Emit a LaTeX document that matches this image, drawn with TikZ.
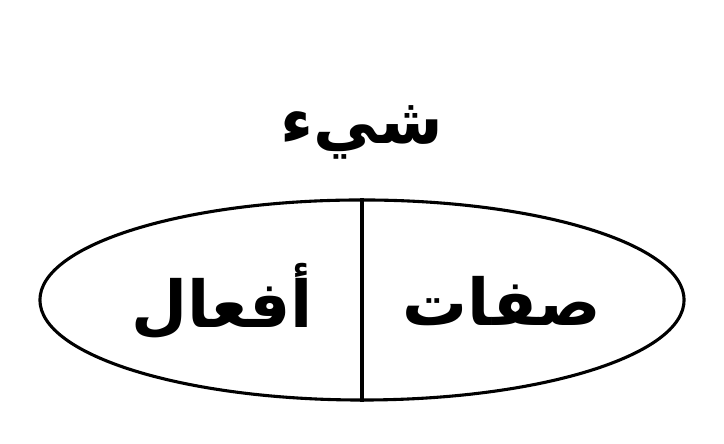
\documentclass[tikz,border=0pt]{standalone}
\usepackage{fontspec}
\usetikzlibrary{shapes.geometric,positioning}
\newfontfamily\arabicfont[Script=Arabic]{DejaVu Sans}
\TeXXeTstate=1
\tikzset{
  whole/.style={ellipse,draw,line width=2.2pt,minimum width=16.1cm,minimum height=5cm,inner sep=0pt},
  word/.style={font=\arabicfont\bfseries\fontsize{46}{54}\selectfont}
}

\begin{document}
\begin{tikzpicture}[x=0.025cm,y=0.025cm]
    \useasboundingbox (0,0) rectangle (724,444);
    % the object and its two halves
    \node[whole] (thing) at (362,144) {};
    \draw[line width=2.2pt] (thing.north) -- (thing.south);
    \node[word] (name) at (362,312) {\beginR شيء\endR};
    \node[word] (acts) at (222,143) {\beginR أفعال\endR};
    \node[word] (traits) at (502,143) {\beginR صفات\endR};
\end{tikzpicture}
\end{document}
